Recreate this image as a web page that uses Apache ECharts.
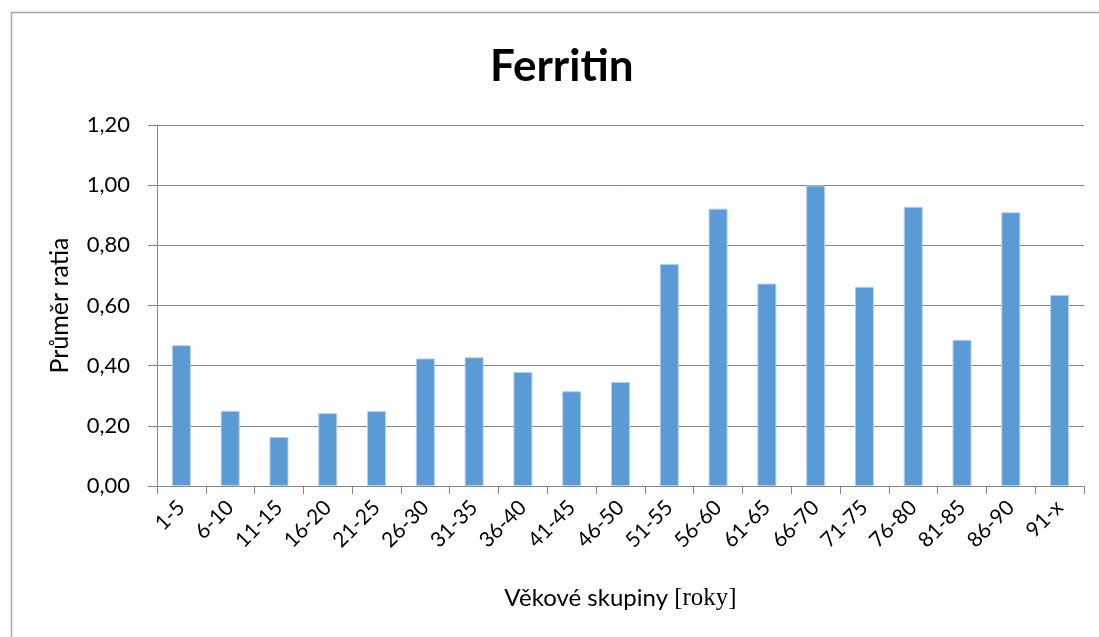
<!DOCTYPE html>
<html>
<head>
<meta charset="utf-8">
<script src="https://cdn.jsdelivr.net/npm/echarts@6/dist/echarts.min.js"></script>
<style>
  html, body { margin: 0; padding: 0; background: #fff; }
  #chart { width: 1099px; height: 637px; }
</style>
</head>
<body>
<div id="chart"></div>
<script>
const categories = ['1-5', '6-10', '11-15', '16-20', '21-25', '26-30', '31-35', '36-40', '41-45', '46-50',
  '51-55', '56-60', '61-65', '66-70', '71-75', '76-80', '81-85', '86-90', '91-x']
const ratioValues = [0.468, 0.250, 0.163, 0.242, 0.249, 0.424, 0.428, 0.379, 0.315, 0.346,
  0.738, 0.922, 0.673, 0.999, 0.662, 0.928, 0.486, 0.910, 0.635]
const yTicks = { min: 0, max: 1.2, interval: 0.2 }

const font = 'Lato, "Open Sans", sans-serif'
const gray = '#868686'

const chart = echarts.init(document.getElementById('chart'))
chart.setOption({
  animation: false,
  title: {
    text: 'Ferritin',
    left: 485,
    top: 40,
    textStyle: { fontFamily: font, fontWeight: 'bold', fontSize: 44, color: '#000' }
  },
  // chart frame, cut off at the right and bottom edges
  graphic: [{
    type: 'rect',
    shape: { x: 11.5, y: 12.5, width: 1100, height: 640 },
    style: { fill: 'none', stroke: '#a6a6a6', lineWidth: 1.5 }
  }],
  grid: { left: 157, right: 15, top: 125, bottom: 151 },
  xAxis: {
    type: 'category',
    data: categories,
    name: 'Věkové skupiny {s|[roky]}',
    nameLocation: 'middle',
    nameGap: 100,
    nameTextStyle: {
      fontFamily: font, fontSize: 24, color: '#000',
      rich: { s: { fontFamily: '"Liberation Serif", serif', fontSize: 25, color: '#000' } }
    },
    axisLine: { lineStyle: { color: gray } },
    axisTick: { show: true, length: 8, lineStyle: { color: gray } },
    axisLabel: { rotate: 45, fontFamily: font, fontSize: 21, color: '#000', margin: 18 }
  },
  yAxis: {
    type: 'value',
    min: yTicks.min,
    max: yTicks.max,
    interval: yTicks.interval,
    name: 'Průměr ratia',
    nameLocation: 'middle',
    nameGap: 85,
    nameRotate: 90,
    nameTextStyle: { fontFamily: font, fontSize: 25, color: '#000' },
    axisLine: { show: true, lineStyle: { color: gray } },
    axisTick: { show: true, length: 9, lineStyle: { color: gray } },
    axisLabel: {
      fontFamily: font, fontSize: 22, color: '#000', margin: 27,
      formatter: v => v.toFixed(2).replace('.', ',')
    },
    splitLine: { lineStyle: { color: gray, width: 1 } }
  },
  series: [{
    type: 'bar',
    data: ratioValues,
    barWidth: 19,
    itemStyle: { color: '#5b9bd5', borderColor: '#b4cfea', borderWidth: 1 }
  }]
})
</script>
</body>
</html>
